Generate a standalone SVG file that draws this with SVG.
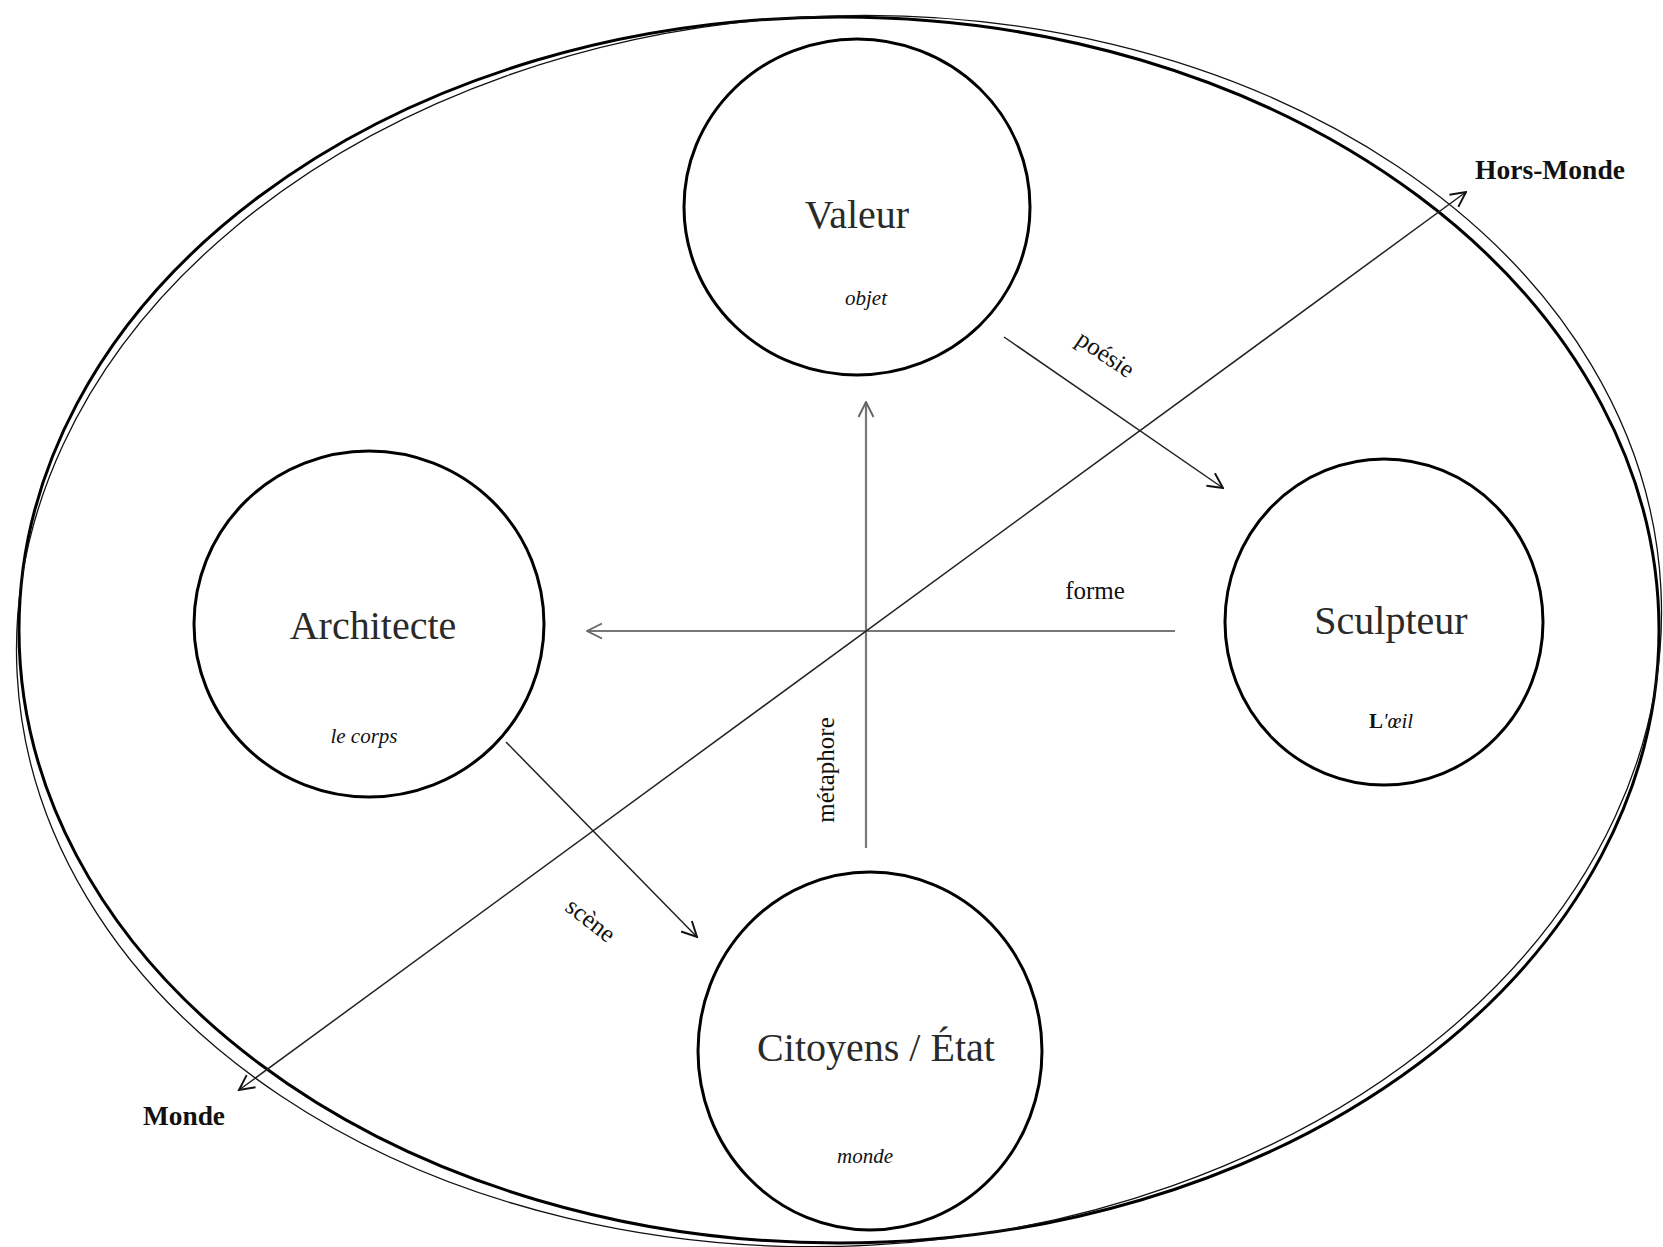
<svg xmlns="http://www.w3.org/2000/svg" width="1663" height="1247" viewBox="0 0 1663 1247">
<style>
  .title { font-family: "Liberation Serif", "DejaVu Serif", serif; font-size: 40px; fill: #2a2a2a; text-anchor: middle; }
  .sub { font-family: "Liberation Serif", "DejaVu Serif", serif; font-size: 21px; font-style: italic; fill: #111; text-anchor: middle; }
  .lbl { font-family: "Liberation Serif", "DejaVu Serif", serif; font-size: 25px; fill: #111; text-anchor: middle; }
  .world { font-family: "Liberation Serif", "DejaVu Serif", serif; font-size: 27px; font-weight: bold; fill: #111; }
  .node { fill: none; stroke: #000; stroke-width: 3; }
  .conn { fill: none; stroke: #222; stroke-width: 1.5; }
  .axis { fill: none; stroke: #777; stroke-width: 2.2; }
</style>
<defs>
  <marker id="arr" viewBox="0 0 12 12" refX="11" refY="6" markerWidth="18" markerHeight="18" markerUnits="userSpaceOnUse" orient="auto-start-reverse">
    <path d="M1,1 L11,6 L1,11" fill="none" stroke="#111" stroke-width="1.3"/>
  </marker>
  <marker id="arrg" viewBox="0 0 12 12" refX="11" refY="6" markerWidth="18" markerHeight="18" markerUnits="userSpaceOnUse" orient="auto">
    <path d="M1,1 L11,6 L1,11" fill="none" stroke="#666" stroke-width="1.3"/>
  </marker>
</defs>
<rect width="1663" height="1247" fill="#fff"/>

<g id="world">
  <ellipse cx="839" cy="630" rx="820" ry="613" fill="none" stroke="#000" stroke-width="3"/>
  <ellipse cx="839" cy="631" rx="823" ry="615" fill="none" stroke="#111" stroke-width="1.3" transform="rotate(-3 839 631)"/>
</g>

<g id="connectors">
  <line class="axis" x1="866" y1="848" x2="866" y2="402" marker-end="url(#arrg)"/>
  <line class="axis" x1="1175" y1="631" x2="587" y2="631" stroke-width="1.3" marker-end="url(#arrg)"/>
  <line class="conn" x1="1004" y1="337" x2="1223" y2="488" marker-end="url(#arr)"/>
  <line class="conn" x1="506" y1="742" x2="697" y2="937" marker-end="url(#arr)"/>
  <line class="conn" x1="239" y1="1090" x2="1466" y2="192" marker-start="url(#arr)" marker-end="url(#arr)"/>
  <text class="lbl" transform="translate(1105,355) rotate(34)" dy="7" font-size="24">poésie</text>
  <text class="lbl" x="1095" y="599">forme</text>
  <text class="lbl" transform="translate(834,770) rotate(-90)" font-size="25">métaphore</text>
  <text class="lbl" transform="translate(590,921) rotate(38)" dy="7" font-size="24">scène</text>
</g>

<g id="valeur">
  <ellipse class="node" cx="857" cy="207" rx="173" ry="168"/>
  <text class="title" x="857" y="228">Valeur</text>
  <text class="sub" x="866" y="305">objet</text>
</g>

<g id="architecte">
  <ellipse class="node" cx="369" cy="624" rx="175" ry="173"/>
  <text class="title" x="373" y="639">Architecte</text>
  <text class="sub" x="364" y="743">le corps</text>
</g>

<g id="sculpteur">
  <ellipse class="node" cx="1384" cy="622" rx="159" ry="163"/>
  <text class="title" x="1391" y="634">Sculpteur</text>
  <text class="sub" x="1391" y="728"><tspan font-style="normal" font-weight="bold">L</tspan>'œil</text>
</g>

<g id="citoyens">
  <ellipse class="node" cx="870" cy="1051" rx="172" ry="179"/>
  <text class="title" x="876" y="1061">Citoyens / État</text>
  <text class="sub" x="865" y="1163">monde</text>
</g>

<g id="hors-monde">
  <text class="world" x="1475" y="179" textLength="150" lengthAdjust="spacingAndGlyphs">Hors-Monde</text>
</g>
<g id="monde">
  <text class="world" x="143" y="1125" textLength="82" lengthAdjust="spacingAndGlyphs">Monde</text>
</g>
</svg>
